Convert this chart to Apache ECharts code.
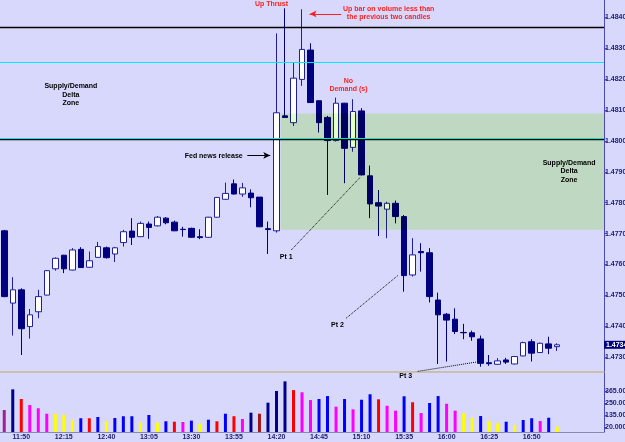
<!DOCTYPE html>
<html>
<head>
<meta charset="utf-8">
<script src="https://cdn.jsdelivr.net/npm/echarts@6/dist/echarts.min.js"></script>
<style>
  html, body { margin: 0; padding: 0; background: #d8d8fc; }
  #chart { width: 625px; height: 442px; }
</style>
</head>
<body>
<div id="chart"></div>
<script>
// 5 minute bars from 11:40, a few empty slots after the last one
const startTime = "11:40";
const emptySlots = 5;

const open = [1.47709,1.47475,1.47518,1.47399,1.47447,1.47501,1.47586,1.47630,1.47582,1.47649,
  1.47591,1.47623,1.47654,1.47634,1.47671,1.47708,1.47690,1.47731,1.47725,1.47750,
  1.47737,1.47714,1.47717,1.47690,1.47688,1.47753,1.47811,1.47861,1.47828,1.47831,
  1.47818,1.47716,1.47709,1.48081,1.48059,1.48199,1.48294,1.48130,1.48076,1.48001,
  1.48122,1.47979,1.48097,1.47887,1.47800,1.47779,1.47798,1.47755,1.47566,1.47642,
  1.47638,1.47485,1.47439,1.47423,1.47380,1.47379,1.47359,1.47282,1.47277,1.47291,
  1.47278,1.47304,1.47350,1.47315,1.47343,1.47334];
const close = [1.47496,1.47518,1.47392,1.47437,1.47496,1.47580,1.47620,1.47586,1.47647,1.47590,
  1.47612,1.47658,1.47622,1.47654,1.47706,1.47688,1.47733,1.47720,1.47753,1.47735,
  1.47709,1.47713,1.47688,1.47687,1.47753,1.47817,1.47830,1.47828,1.47848,1.47816,
  1.47722,1.47713,1.48091,1.48076,1.48203,1.48296,1.48124,1.48059,1.48001,1.48122,
  1.47976,1.48095,1.47890,1.47796,1.47789,1.47798,1.47755,1.47564,1.47631,1.47638,
  1.47496,1.47437,1.47420,1.47383,1.47379,1.47366,1.47280,1.47279,1.47288,1.47284,
  1.47302,1.47347,1.47313,1.47345,1.47329,1.47340];
const low = [1.47494,1.47370,1.47307,1.47360,1.47426,1.47500,1.47580,1.47572,1.47581,1.47589,
  1.47590,1.47623,1.47619,1.47608,1.47658,1.47663,1.47689,1.47683,1.47723,1.47730,
  1.47708,1.47690,1.47687,1.47682,1.47687,1.47752,1.47810,1.47827,1.47819,1.47785,
  1.47721,1.47634,1.47703,1.48076,1.48048,1.48178,1.48123,1.48027,1.47825,1.47998,
  1.47863,1.47965,1.47888,1.47750,1.47692,1.47685,1.47733,1.47512,1.47561,1.47577,
  1.47477,1.47278,1.47286,1.47375,1.47358,1.47353,1.47269,1.47272,1.47276,1.47278,
  1.47277,1.47303,1.47286,1.47314,1.47310,1.47320];
const high = [1.47712,1.47559,1.47523,1.47456,1.47518,1.47582,1.47623,1.47631,1.47653,1.47656,
  1.47642,1.47673,1.47658,1.47657,1.47712,1.47750,1.47739,1.47739,1.47757,1.47753,
  1.47742,1.47722,1.47719,1.47714,1.47754,1.47818,1.47865,1.47875,1.47864,1.47843,
  1.47818,1.47739,1.48348,1.48429,1.48253,1.48426,1.48316,1.48131,1.48081,1.48140,
  1.48123,1.48135,1.48106,1.47920,1.47841,1.47803,1.47807,1.47760,1.47685,1.47669,
  1.47653,1.47509,1.47443,1.47458,1.47408,1.47386,1.47370,1.47307,1.47297,1.47298,
  1.47302,1.47350,1.47358,1.47347,1.47366,1.47345];

const volume = [184,381,289,232,201,149,149,137,92,106,
  106,118,80,108,125,125,68,137,64,77,
  73,70,83,54,92,77,149,125,99,159,
  149,254,365,457,374,353,279,289,317,216,
  289,191,282,334,286,225,178,315,258,156,
  251,317,244,178,153,111,127,80,58,73,
  42,89,106,80,111,26];
// volume bar class: P purple, N navy, B blue, R red, M magenta, Y yellow, D dark red
const volType = ['P','N','R','M','M','M','Y','Y','Y','B',
  'R','B','Y','B','B','B','Y','B','Y','B',
  'R','M','B','Y','B','R','B','R','M','N',
  'D','N','N','N','R','M','M','B','B','M',
  'B','M','B','B','R','M','M','B','R','M',
  'B','B','M','M','Y','Y','B','Y','Y','B',
  'Y','B','B','M','B','Y'];

const priceTicks = [1.473,1.474,1.475,1.476,1.477,1.478,1.479,1.480,1.481,1.482,1.483,1.484];
const volTicks = [20, 135, 250, 365];
const volTickLabels = ["20.000", "135.00", "250.00", "365.00"];

// horizontal levels
const blackLevels = [1.48368, 1.48004];
const cyanLevels = [1.48255, 1.48010];
// supply/demand zone (bar index from/to, price high/low)
const zone = { from: 32.5, to: 70.5, high: 1.48089, low: 1.47712 };

// annotations in [bar index, price]
const notes = [
  { text: "Up Thrust", at: [31.42, 1.48443], red: true },
  { text: "Up bar on volume less than\nthe previous two candles", at: [45.19, 1.48414], red: true },
  { text: "No\nDemand (s)", at: [40.46, 1.48181], red: true },
  { text: "Supply/Demand\nDelta\nZone", at: [7.83, 1.48149] },
  { text: "Supply/Demand\nDelta\nZone", at: [66.4, 1.47902] },
  { text: "Fed news release", at: [24.62, 1.47950] },
  { text: "Pt 1", at: [33.15, 1.47625] },
  { text: "Pt 2", at: [39.17, 1.47404] }
];
// sits just under the price panel, so it is placed in volume units
const volNotes = [{ text: "Pt 3", at: [47.2, 512] }];
const dottedLines = [
  [[33.74, 1.47647], [41.87, 1.47883]],
  [[40.19, 1.47426], [46.25, 1.47564]],
  [[48.6, 1.47254], [55.45, 1.47284]]
];
const arrows = [
  { from: [39.61, 1.48411], to: [35.89, 1.48411], red: true },
  { from: [28.57, 1.47953], to: [31.27, 1.47953] }
];

const palette = { P: '#a0208f', N: '#00008c', B: '#0000ff', R: '#ff0000', M: '#ff00ff', Y: '#ffff00', D: '#a01818' };
const navy = '#000080';
const font = 'Liberation Sans';

function buildTimes(start, n) {
  let [h, m] = start.split(':').map(Number);
  const out = [];
  for (let i = 0; i < n; i++) {
    out.push(h + ':' + String(m).padStart(2, '0'));
    m += 5;
    if (m >= 60) { m -= 60; h += 1; }
  }
  return out;
}

const times = buildTimes(startTime, open.length + emptySlots);
const nSlots = times.length;

const candles = open.map((o, i) => ({ value: [o, close[i], low[i], high[i]] }));

const lastClose = close[close.length - 1];
const labelEvery = (i) => i % 5 === 2 && i < open.length;

const noteLabel = { show: true, position: 'inside', formatter: '{b}', fontSize: 7, fontWeight: 'bold',
  fontFamily: font, lineHeight: 8.6, color: '#000' };
const toPoints = (list) => list.map((n) => ({ name: n.text, coord: n.at, label: { color: n.red ? '#ff2020' : '#000' } }));

var chart = echarts.init(document.getElementById('chart'));
var option = {
  animation: false,
  backgroundColor: '#d8d8fc',
  grid: [
    { left: 0, right: 21, top: 0, height: 372, outerBoundsMode: 'none', containLabel: false },
    { left: 0, right: 21, top: 372, height: 60, outerBoundsMode: 'none', containLabel: false }
  ],
  xAxis: [
    {
      type: 'category', gridIndex: 0, data: times, boundaryGap: true,
      axisLine: { onZero: false, lineStyle: { color: '#c4b894', width: 1.5 } },
      axisTick: { show: false }, axisLabel: { show: false }, splitLine: { show: false }
    },
    {
      type: 'category', gridIndex: 1, data: times, boundaryGap: true,
      axisLine: { onZero: false, lineStyle: { color: '#8888b8' } },
      axisTick: { interval: labelEvery, alignWithLabel: true, length: 3, lineStyle: { color: navy } },
      axisLabel: { interval: labelEvery, color: '#1c1c78', fontSize: 7, fontWeight: 'bold', fontFamily: font, margin: 2 }
    },
    { type: 'value', gridIndex: 0, min: -0.5, max: nSlots - 0.5, show: false },
    { type: 'value', gridIndex: 1, min: -0.5, max: nSlots - 0.5, show: false }
  ],
  yAxis: [
    {
      type: 'value', gridIndex: 0, position: 'right', min: 1.47252, max: 1.48456, scale: true,
      splitLine: { show: false },
      axisLine: { show: true, onZero: false, lineStyle: { color: '#4a4ab0' } },
      axisTick: { show: true, length: 3, customValues: priceTicks, lineStyle: { color: '#4a4ab0' } },
      axisLabel: { customValues: priceTicks, formatter: (v) => v.toFixed(4), color: '#1c1c78',
        fontSize: 7, fontWeight: 'bold', fontFamily: font, margin: 1 }
    },
    {
      type: 'value', gridIndex: 1, position: 'right', min: -25, max: 546, startValue: -25,
      splitLine: { show: false },
      axisLine: { show: true, onZero: false, lineStyle: { color: '#4a4ab0' } },
      axisTick: { show: true, length: 3, customValues: volTicks, lineStyle: { color: '#4a4ab0' } },
      axisLabel: { customValues: volTicks, formatter: (v) => volTickLabels[volTicks.indexOf(v)] || '',
        color: '#1c1c78', fontSize: 7, fontWeight: 'bold', fontFamily: font, margin: 1 }
    }
  ],
  series: [
    {
      type: 'candlestick', xAxisIndex: 0, yAxisIndex: 0, barWidth: 6,
      itemStyle: { color: '#ffffff', color0: navy, borderColor: '#20209a', borderColor0: navy, borderWidth: 1 },
      data: candles,
      markLine: {
        silent: true, symbol: ['none', 'none'], precision: 5,
        lineStyle: { color: 'rgba(0,0,0,0)', width: 1 },
        label: { show: true, position: 'end', distance: 0, formatter: (p) => Number(p.value).toFixed(4), color: '#ffffff',
          backgroundColor: '#00007a', padding: [1, 2, 0, 2], fontSize: 7, fontWeight: 'bold', fontFamily: font },
        data: [{ yAxis: lastClose }]
      }
    },
    {
      type: 'bar', xAxisIndex: 1, yAxisIndex: 1, barWidth: 3,
      data: volume.map((v, i) => ({ value: v, itemStyle: { color: palette[volType[i]] } }))
    },
    {
      type: 'line', xAxisIndex: 2, yAxisIndex: 0, data: [], z: 20, silent: true,
      markLine: {
        silent: true, symbol: ['none', 'none'], precision: 6, label: { show: false },
        data: [
          ...blackLevels.map((y) => ({ yAxis: y, lineStyle: { color: '#000000', width: 1.3, type: 'solid' } })),
          ...cyanLevels.map((y) => ({ yAxis: y, lineStyle: { color: '#00e8f8', width: 1.2, type: 'solid' } })),
          ...dottedLines.map((d) => [
            { coord: d[0], lineStyle: { color: '#000', width: 1, type: 'dotted' } },
            { coord: d[1], lineStyle: { color: '#000', width: 1, type: 'dotted' } }
          ]),
          ...arrows.map((a) => [
            { coord: a.from, symbol: 'none', lineStyle: { color: a.red ? '#ff2020' : '#000', width: 1, type: 'solid' } },
            { coord: a.to, symbol: 'arrow', symbolSize: [5, 7], itemStyle: { color: a.red ? '#ff2020' : '#000' },
              lineStyle: { color: a.red ? '#ff2020' : '#000', width: 1, type: 'solid' } }
          ])
        ]
      },
      markPoint: {
        silent: true, symbol: 'rect', symbolSize: 1, itemStyle: { color: 'rgba(0,0,0,0)' },
        label: noteLabel, data: toPoints(notes)
      }
    },
    {
      type: 'line', xAxisIndex: 3, yAxisIndex: 1, data: [], z: 20, silent: true,
      markPoint: {
        silent: true, symbol: 'rect', symbolSize: 1, itemStyle: { color: 'rgba(0,0,0,0)' },
        label: noteLabel, data: toPoints(volNotes)
      }
    }
  ]
};
chart.setOption(option);

// zone drawn on top with a multiply blend so bodies under it turn pale green
const zTop = chart.convertToPixel({ seriesIndex: 2 }, [zone.from, zone.high]);
const zBot = chart.convertToPixel({ seriesIndex: 2 }, [zone.to, zone.low]);
chart.setOption({
  graphic: [{
    type: 'rect', silent: true, z: 10,
    shape: { x: zTop[0], y: zTop[1], width: zBot[0] - zTop[0], height: zBot[1] - zTop[1] },
    style: { fill: '#e2ffc4', blend: 'multiply' }
  }]
});
</script>
</body>
</html>
